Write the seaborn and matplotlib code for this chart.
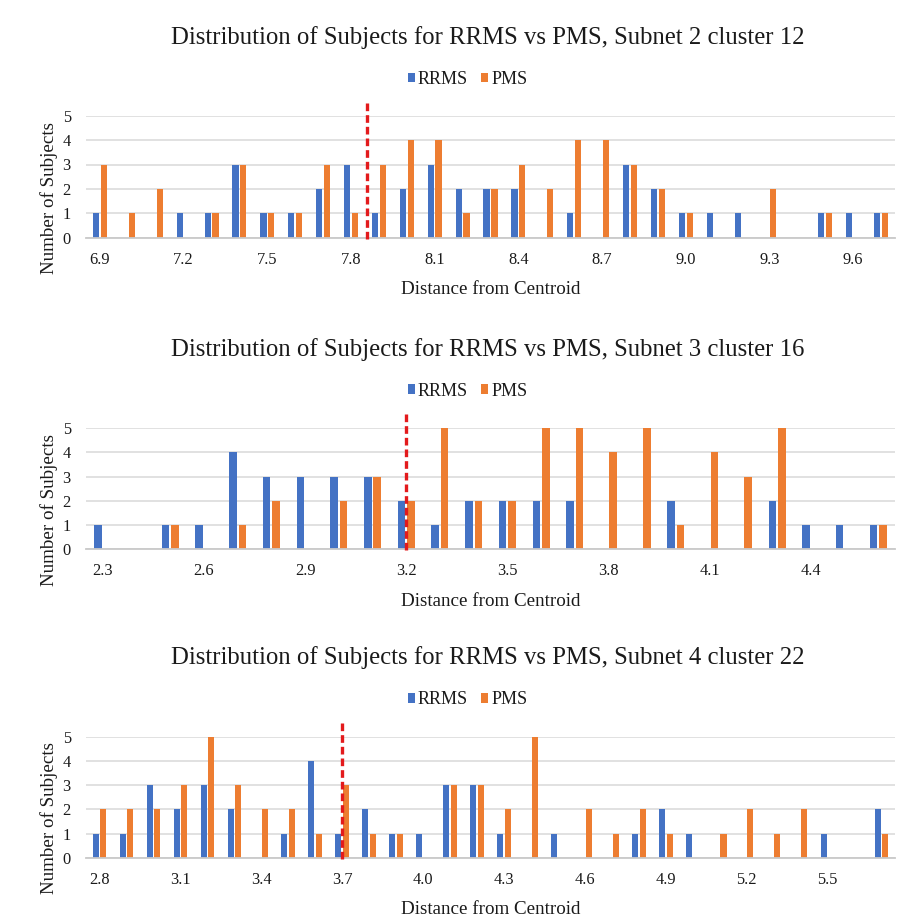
import matplotlib
matplotlib.use("Agg")
import matplotlib.pyplot as plt
from matplotlib.patches import Patch
import seaborn as sns
import pandas as pd

sns.set_theme(style="white")
plt.rcParams["font.family"] = ["Liberation Serif", "DejaVu Serif"]

# ---------------- data ----------------
groups = ["RRMS", "PMS"]
colors = ["#4472C4", "#ED7D31"]

titles = [
    "Distribution of Subjects for RRMS vs PMS, Subnet 2 cluster 12",
    "Distribution of Subjects for RRMS vs PMS, Subnet 3 cluster 16",
    "Distribution of Subjects for RRMS vs PMS, Subnet 4 cluster 22",
]

dist1 = ["6.9", "7.0", "7.1", "7.2", "7.3", "7.4", "7.5", "7.6", "7.7", "7.8",
         "7.9", "8.0", "8.1", "8.2", "8.3", "8.4", "8.5", "8.6", "8.7", "8.8",
         "8.9", "9.0", "9.1", "9.2", "9.3", "9.4", "9.5", "9.6", "9.7"]
rrms1 = [1, 0, 0, 1, 1, 3, 1, 1, 2, 3, 1, 2, 3, 2, 2, 2, 0, 1, 0, 3, 2, 1, 1, 1, 0, 0, 1, 1, 1]
pms1 = [3, 1, 2, 0, 1, 3, 1, 1, 3, 1, 3, 4, 4, 1, 2, 3, 2, 4, 4, 3, 2, 1, 0, 0, 2, 0, 1, 0, 1]
cut1 = 7.857

dist2 = ["2.3", "2.4", "2.5", "2.6", "2.7", "2.8", "2.9", "3.0", "3.1", "3.2",
         "3.3", "3.4", "3.5", "3.6", "3.7", "3.8", "3.9", "4.0", "4.1", "4.2",
         "4.3", "4.4", "4.5", "4.6"]
rrms2 = [1, 0, 1, 1, 4, 3, 3, 3, 3, 2, 1, 2, 2, 2, 2, 0, 0, 2, 0, 0, 2, 1, 1, 1]
pms2 = [0, 0, 1, 0, 1, 2, 0, 2, 3, 2, 5, 2, 2, 5, 5, 4, 5, 1, 4, 3, 5, 0, 0, 1]
cut2 = 3.2

dist3 = ["2.8", "2.9", "3.0", "3.1", "3.2", "3.3", "3.4", "3.5", "3.6", "3.7",
         "3.8", "3.9", "4.0", "4.1", "4.2", "4.3", "4.4", "4.5", "4.6", "4.7",
         "4.8", "4.9", "5.0", "5.1", "5.2", "5.3", "5.4", "5.5", "5.6", "5.7"]
rrms3 = [1, 1, 3, 2, 3, 2, 0, 1, 4, 1, 2, 1, 1, 3, 3, 1, 0, 1, 0, 0, 1, 2, 1, 0, 0, 0, 0, 1, 0, 2]
pms3 = [2, 2, 2, 3, 5, 3, 2, 2, 1, 3, 1, 1, 0, 3, 3, 2, 5, 0, 2, 1, 2, 1, 0, 1, 2, 1, 2, 0, 0, 1]
cut3 = 3.7

panels = [
    (dist1, rrms1, pms1, cut1),
    (dist2, rrms2, pms2, cut2),
    (dist3, rrms3, pms3, cut3),
]

# ---------------- layout ----------------
W, H = 904, 918
fig = plt.figure(figsize=(W / 100, H / 100), dpi=100)

ax_left_px, ax_right_px = 86, 895
ax_rows = [(115.7, 237.7), (428.3, 549.0), (736.7, 857.7)]  # (top, bottom) px
title_y = [38, 350, 658]
legend_y = [79.5, 391, 700]

txt = "#1a1a1a"

for (dist, rr, pm, cut), title, (top, bot), ty, ly in zip(panels, titles, ax_rows, title_y, legend_y):
    ax = fig.add_axes([ax_left_px / W, 1 - bot / H,
                       (ax_right_px - ax_left_px) / W, (bot - top) / H])
    df = pd.DataFrame({
        "Distance": dist * 2,
        "Count": rr + pm,
        "Group": ["RRMS"] * len(dist) + ["PMS"] * len(dist),
    })
    sns.barplot(data=df, x="Distance", y="Count", hue="Group",
                order=dist, hue_order=groups, palette=colors,
                saturation=1, width=0.56, gap=0.2, errorbar=None,
                linewidth=0, legend=False, ax=ax, zorder=3)

    n = len(dist)
    ax.set_xlim(-0.5, n - 0.5)
    ax.set_ylim(0, 5)
    ax.set_yticks(range(0, 6))
    ax.set_xticks(range(0, n, 3))
    ax.set_xticklabels(dist[::3])
    ax.tick_params(axis="both", length=0, labelsize=11.8, colors=txt)
    ax.tick_params(axis="x", pad=10)
    ax.tick_params(axis="y", pad=11)
    ax.grid(axis="y", color="#D9D9D9", lw=1.1, zorder=0)
    ax.grid(axis="x", visible=False)
    for s in ["top", "right", "left"]:
        ax.spines[s].set_visible(False)
    ax.spines["bottom"].set_color("#C9C9C9")
    ax.spines["bottom"].set_linewidth(1.3)
    ax.spines["bottom"].set_zorder(4)

    ax.set_xlabel("Distance from Centroid", fontsize=13.7, color=txt, labelpad=10)
    ax.set_ylabel("Number of Subjects", fontsize=13.7, color=txt)
    ax.yaxis.set_label_coords(-0.034, 0.325)

    # cut line
    xc = (cut - float(dist[0])) / 0.1
    ax.plot([xc, xc], [-0.05, 5.65], color="#E31A1C", lw=2.4,
            ls=(0, (2.3, 1.2)), clip_on=False, zorder=6)

    fig.text(488 / W, 1 - ty / H, title, fontsize=17.8, color=txt,
             ha="center", va="center")

    handles = [Patch(facecolor=c, edgecolor="none") for c in colors]
    ax.legend(handles, groups, loc="center",
              bbox_to_anchor=((467.5 - ax_left_px) / (ax_right_px - ax_left_px),
                              1.0 + (top - ly) / (bot - top)),
              ncol=2, frameon=False, fontsize=13, handlelength=0.4, handleheight=0.4,
              handletextpad=0.15, columnspacing=0.75, labelcolor=txt,
              borderpad=0, borderaxespad=0)

fig.savefig("out.png", dpi=100)
